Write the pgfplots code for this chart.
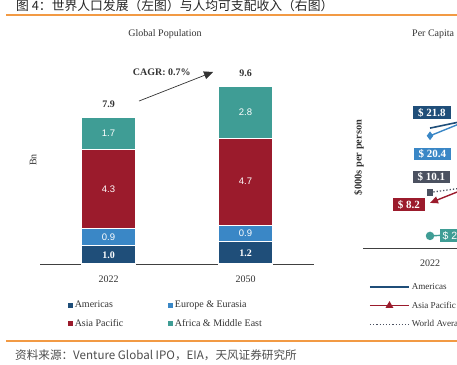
\documentclass[border=0pt]{standalone}
\usepackage{pgfplots}
\pgfplotsset{compat=1.18}
\usetikzlibrary{arrows.meta}
\usepackage{fontspec}
\setmainfont{Liberation Serif}
\setsansfont{Liberation Sans}
\newfontfamily\cjk{Noto Sans CJK SC}
\definecolor{cAm}{HTML}{1F4E79}
\definecolor{cEu}{HTML}{3A87C6}
\definecolor{cAs}{HTML}{9B1B2C}
\definecolor{cAf}{HTML}{3F9D95}
\definecolor{cWo}{HTML}{4B5160}
\definecolor{cOr}{HTML}{F29A44}
\definecolor{cTx}{HTML}{333333}
\newcommand{\fs}[1]{\fontsize{#1}{#1}\selectfont}
\begin{document}
\begin{tikzpicture}[x=1pt,y=1pt]
\useasboundingbox (0,0) rectangle (457,364);
\clip (0,0) rectangle (457,364);
% header and footer
\node[anchor=base west, inner sep=0, text=black!85] at (16,353) {\cjk\fs{12.8}图 4：世界人口发展（左图）与人均可支配收入（右图）};
\draw[cOr, line width=2pt] (6,349) -- (457,349);
\draw[cOr, line width=2pt] (6,23) -- (457,23);
\node[anchor=west, inner sep=0, text=black!70] at (15,9) {\cjk\fs{11.6}资料来源：Venture Global IPO，EIA，天风证券研究所};
% titles
\node[font=\fs{10}, text=cTx] at (165,330) {Global Population};
\node[anchor=west, font=\fs{10}, text=cTx, inner sep=0] at (412,330) {Per Capita};
\node[rotate=90, font=\fs{10}, text=cTx] at (33,204) {Bn};
\node[rotate=90, font=\bfseries\fs{10.4}, text=cTx] at (359,206.5) {\$000s per person};

% ---------------- left: Global Population ----------------
\begin{axis}[
  at={(40pt,100pt)}, anchor=south west,
  scale only axis, width=274pt, height=222pt,
  ybar stacked, bar width=54pt,
  xmin=-0.5, xmax=1.5, ymin=0, ymax=12,
  axis x line=bottom, axis y line=none,
  x axis line style={draw=black!75, line width=1pt, -},
  xtick={0,1}, xticklabels={2022,2050},
  major tick length=0pt,
  xticklabel style={font=\fs{10}, text=cTx, yshift=-8pt},
  clip=false,
  every axis plot/.append style={draw=white, line width=1.2pt},
  legend columns=2,
  legend cell align=left,
  legend image code/.code={\fill[#1,draw=none] (0pt,-2.3pt) rectangle (4.6pt,2.3pt);},
  legend style={at={(0.102,-0.158)}, anchor=north west, draw=none, fill=none,
    inner sep=0pt, font=\fs{10}, text=cTx, row sep=6pt,
    /tikz/every even column/.append style={column sep=43pt}},
]
\addplot[fill=cAm] coordinates {(0,1.0) (1,1.2)};
\addplot[fill=cEu] coordinates {(0,0.9) (1,0.9)};
\addplot[fill=cAs] coordinates {(0,4.3) (1,4.7)};
\addplot[fill=cAf] coordinates {(0,1.7) (1,2.8)};
\legend{Americas, Europe \& Eurasia, Asia Pacific, Africa \& Middle East}
% label anchors
\coordinate (a0) at (axis cs:0,0.5);
\coordinate (a1) at (axis cs:1,0.6);
\coordinate (e0) at (axis cs:0,1.45);
\coordinate (e1) at (axis cs:1,1.65);
\coordinate (p0) at (axis cs:0,4.05);
\coordinate (p1) at (axis cs:1,4.45);
\coordinate (f0) at (axis cs:0,7.05);
\coordinate (f1) at (axis cs:1,8.2);
% totals
\node[font=\bfseries\fs{10}, text=cTx] at (axis cs:0,8.65) {7.9};
\node[font=\bfseries\fs{10}, text=cTx] at (axis cs:1,10.3) {9.6};
% CAGR
\draw[cTx, line width=0.7pt, -{Triangle[length=9pt,width=8pt]}] (axis cs:0.223,8.81) -- (axis cs:0.763,10.38);
\node[font=\bfseries\fs{10}, text=cTx] at (axis cs:0.389,10.34) {CAGR: 0.7\%};
\end{axis}
% segment labels (drawn over the bars)
\node[font=\bfseries\fs{10}, text=white] at (a0) {1.0};
\node[font=\bfseries\fs{10}, text=white] at (a1) {1.2};
\node[font=\sffamily\fs{9.5}, text=white] at (e0) {0.9};
\node[font=\sffamily\fs{9.5}, text=white] at (e1) {0.9};
\node[font=\sffamily\fs{9.5}, text=white] at (p0) {4.3};
\node[font=\sffamily\fs{9.5}, text=white] at (p1) {4.7};
\node[font=\sffamily\fs{9.5}, text=white] at (f0) {1.7};
\node[font=\sffamily\fs{9.5}, text=white] at (f1) {2.8};

% ---------------- right: Per Capita ----------------
\begin{axis}[
  at={(363pt,116pt)}, anchor=south west,
  scale only axis, width=271pt, height=220pt,
  xmin=2008.3, xmax=2063.7, ymin=0, ymax=40,
  axis x line=bottom, axis y line=none,
  x axis line style={draw=black!75, line width=1pt, -},
  xtick={2022,2050}, xticklabels={2022,2050},
  major tick length=0pt,
  xticklabel style={font=\fs{10}, text=cTx, yshift=-8pt},
  clip=false,
  legend cell align=left,
  legend image code/.code={\draw[#1, mark repeat=2, mark phase=2] plot coordinates {(0pt,0pt) (19.5pt,0pt) (39pt,0pt)};},
  legend style={at={(0.022,-0.15)}, anchor=north west, draw=none, fill=none,
    inner sep=0pt, font=\fs{9.1}, text=cTx, row sep=7pt},
]
\addplot[cAm, line width=1.6pt, mark=none, forget plot] coordinates {(2022,21.8) (2050,27.0)};
\addplot[cEu, line width=1.4pt, mark=diamond*, mark size=3.2pt, forget plot] coordinates {(2022,20.4) (2050,30.5)};
\addplot[cWo, line width=1.3pt, dotted, mark=square*, mark size=2.6pt, mark options={solid}, forget plot] coordinates {(2022,10.1) (2050,13.6)};
\addplot[cAs, line width=1.4pt, {Triangle[length=8pt,width=7pt]}-, mark=none, forget plot] coordinates {(2022,8.2) (2050,18.2)};
\addplot[cAf, line width=1.4pt, mark=*, mark size=3.5pt, forget plot] coordinates {(2022,2.2) (2050,3.5)};
\addlegendimage{cAm, line width=1.6pt}
\addlegendentry{Americas}
\addlegendimage{cAs, line width=1.6pt, mark=triangle*, mark size=3pt}
\addlegendentry{Asia Pacific}
\addlegendimage{cWo, line width=1.2pt, dotted}
\addlegendentry{World Average}
% value boxes
\node[fill=cAm, text=white, font=\bfseries\fs{11}, inner xsep=5pt, inner ysep=2pt] at (axis cs:2022.4,24.6) {\$ 21.8};
\node[fill=cEu, text=white, font=\bfseries\fs{11}, inner xsep=5pt, inner ysep=2pt] at (axis cs:2022.5,17.1) {\$ 20.4};
\node[fill=cWo, text=white, font=\bfseries\fs{11}, inner xsep=5pt, inner ysep=2pt] at (axis cs:2022.3,12.9) {\$ 10.1};
\node[fill=cAs, text=white, font=\bfseries\fs{11}, inner xsep=5pt, inner ysep=2pt] at (axis cs:2017.7,7.9) {\$ 8.2};
\node[fill=cAf, text=white, font=\sffamily\fs{10.5}, anchor=west, inner xsep=3pt, inner ysep=2pt] at (axis cs:2023.9,2.27) {\$ 2.2};
\end{axis}
\end{tikzpicture}
\end{document}
